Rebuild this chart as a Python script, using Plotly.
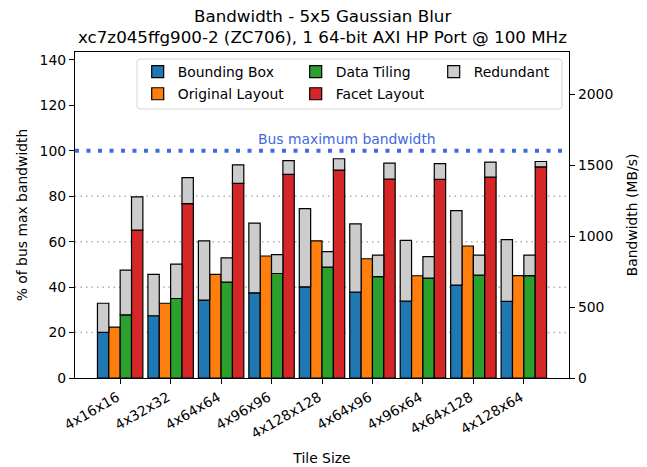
import plotly.graph_objects as go

categories = ["4x16x16", "4x32x32", "4x64x64", "4x96x96", "4x128x128",
              "4x64x96", "4x96x64", "4x64x128", "4x128x64"]

bounding_box = [20.1, 27.4, 34.3, 37.5, 40.1, 37.8, 33.8, 40.9, 33.7]
bounding_box_total = [32.9, 45.6, 60.4, 68.2, 74.6, 67.8, 60.6, 73.7, 60.9]
original_layout = [22.4, 32.9, 45.6, 53.7, 60.4, 52.5, 45.0, 58.1, 45.1]
data_tiling = [27.8, 35.0, 42.2, 46.0, 48.8, 44.6, 44.0, 45.3, 45.1]
data_tiling_total = [47.5, 50.1, 52.9, 54.3, 55.6, 54.1, 53.4, 54.1, 54.1]
facet_layout = [65.1, 76.8, 85.7, 89.6, 91.5, 87.6, 87.4, 88.4, 92.9]
facet_layout_total = [79.7, 88.2, 93.8, 95.7, 96.5, 94.6, 94.4, 95.0, 95.3]

bus_max_pct = 100
bus_max_mbs = 1600
grid_levels = [20, 40, 60, 80]
right_ticks = [0, 500, 1000, 1500, 2000]

FONT = "DejaVu Sans"
FS = 13.9
COLORS = {"bb": "#1f77b4", "ol": "#ff7f0e", "dt": "#2ca02c", "fl": "#d62728", "red": "#cccccc"}

YMAX = 143.5

fig = go.Figure()
edge = dict(color="black", width=1.2)

def main_bar(name, vals, key, legend):
    fig.add_trace(go.Bar(x=categories, y=vals, name=name, offsetgroup=key,
                         marker=dict(color=COLORS[key], line=edge),
                         legend=legend, hoverinfo="skip"))

main_bar("Bounding Box", bounding_box, "bb", "legend")
main_bar("Original Layout", original_layout, "ol", "legend2")
main_bar("Data Tiling", data_tiling, "dt", "legend3")
main_bar("Facet Layout", facet_layout, "fl", "legend4")

first = True
for key, base, total in [("bb", bounding_box, bounding_box_total),
                         ("dt", data_tiling, data_tiling_total),
                         ("fl", facet_layout, facet_layout_total)]:
    fig.add_trace(go.Bar(x=categories, y=[t - b for t, b in zip(total, base)], base=base,
                         name="Redundant", offsetgroup=key,
                         marker=dict(color=COLORS["red"], line=edge),
                         legend="legend5", showlegend=first, hoverinfo="skip"))
    first = False

# plot area in pixels
L, R, T, B = 75.3, 569.3, 52.3, 378.3
W, H = R - L, B - T

def px_x(p):
    return (p - L) / W

def px_y(p):
    return (B - p) / H

leg_common = dict(orientation="h", xanchor="left", yanchor="middle",
                  bgcolor="rgba(0,0,0,0)", borderwidth=0,
                  font=dict(family=FONT, size=FS, color="black"),
                  itemwidth=30, itemclick=False, itemdoubleclick=False)

# text start x positions and row center y (pixels)
leg_pos = {
    "legend": (143, 72.3),
    "legend2": (143, 94.5),
    "legend3": (301, 72.3),
    "legend4": (301, 94.5),
    "legend5": (439, 72.3),
}

layout_legends = {}
for k, (xp, yp) in leg_pos.items():
    layout_legends[k] = dict(leg_common, x=px_x(xp - 5), y=px_y(yp))

# legend frame (rounded)
fx0, fx1, fy0, fy1, rr = 137.3, 562.3, 59.3, 109.3, 3.0
frame_path = (
    f"M {px_x(fx0 + rr)},{px_y(fy0)} L {px_x(fx1 - rr)},{px_y(fy0)} "
    f"Q {px_x(fx1)},{px_y(fy0)} {px_x(fx1)},{px_y(fy0 + rr)} "
    f"L {px_x(fx1)},{px_y(fy1 - rr)} Q {px_x(fx1)},{px_y(fy1)} {px_x(fx1 - rr)},{px_y(fy1)} "
    f"L {px_x(fx0 + rr)},{px_y(fy1)} Q {px_x(fx0)},{px_y(fy1)} {px_x(fx0)},{px_y(fy1 - rr)} "
    f"L {px_x(fx0)},{px_y(fy0 + rr)} Q {px_x(fx0)},{px_y(fy0)} {px_x(fx0 + rr)},{px_y(fy0)} Z"
)
fig.add_shape(type="path", xref="paper", yref="paper", path=frame_path,
              line=dict(color="#d5d5d5", width=1), fillcolor="rgba(255,255,255,0.8)",
              layer="above")

# grid lines
for g in grid_levels:
    fig.add_shape(type="line", xref="paper", yref="y", x0=0, x1=1, y0=g, y1=g,
                  line=dict(color="#b0b0b0", width=1.5, dash="1.5px,4px"), layer="below")

# bus max line
fig.add_shape(type="line", xref="paper", yref="y", x0=0, x1=1, y0=bus_max_pct, y1=bus_max_pct,
              line=dict(color="#4169e1", width=4, dash="4px,7.5px"), layer="above")
fig.add_annotation(x=4.5, y=bus_max_pct, xref="x", yref="y", text="Bus maximum bandwidth",
                   showarrow=False, yanchor="bottom", yshift=2,
                   font=dict(family=FONT, size=FS, color="#4169e1"))

# title lines
title_lines = ["Bandwidth - 5x5 Gaussian Blur",
               "xc7z045ffg900-2 (ZC706), 1 64-bit AXI HP Port @ 100 MHz"]
for txt, yc in zip(title_lines, [16.5, 37.0]):
    fig.add_annotation(x=0.5, y=px_y(yc), xref="paper", yref="paper", text=txt,
                       showarrow=False, xanchor="center", yanchor="middle",
                       font=dict(family=FONT, size=16.7, color="black"))

# invisible trace for right axis
fig.add_trace(go.Scatter(x=[categories[0]], y=[0], yaxis="y2", mode="markers",
                         marker=dict(opacity=0), showlegend=False, hoverinfo="skip"))

axis_common = dict(showline=True, linecolor="black", linewidth=1.2, ticks="outside",
                   ticklen=5, tickwidth=1.2, tickcolor="black", showgrid=False, zeroline=False,
                   automargin=False,
                   tickfont=dict(family=FONT, size=FS, color="black"))

fig.update_layout(
    width=647, height=467,
    margin=dict(l=L, r=647 - R, t=T, b=467 - B, autoexpand=False),
    paper_bgcolor="white", plot_bgcolor="white",
    barmode="group", bargap=0.1, bargroupgap=0,
    font=dict(family=FONT, size=FS, color="black"),
    xaxis=dict(axis_common, mirror=True, range=[-0.895, 8.895], tickangle=-30,
               ticklabelshift=-3,
               title=dict(text="Tile Size", standoff=12, font=dict(family=FONT, size=FS))),
    yaxis=dict(axis_common, range=[0, YMAX], tickvals=[0, 20, 40, 60, 80, 100, 120, 140],
               title=dict(text="% of bus max bandwidth", standoff=8, font=dict(family=FONT, size=FS))),
    yaxis2=dict(axis_common, overlaying="y", side="right",
                range=[0, YMAX * bus_max_mbs / bus_max_pct], tickvals=right_ticks,
                title=dict(text="Bandwidth (MB/s)", standoff=15, font=dict(family=FONT, size=FS))),
    **layout_legends,
)

fig.write_html("out.html")
